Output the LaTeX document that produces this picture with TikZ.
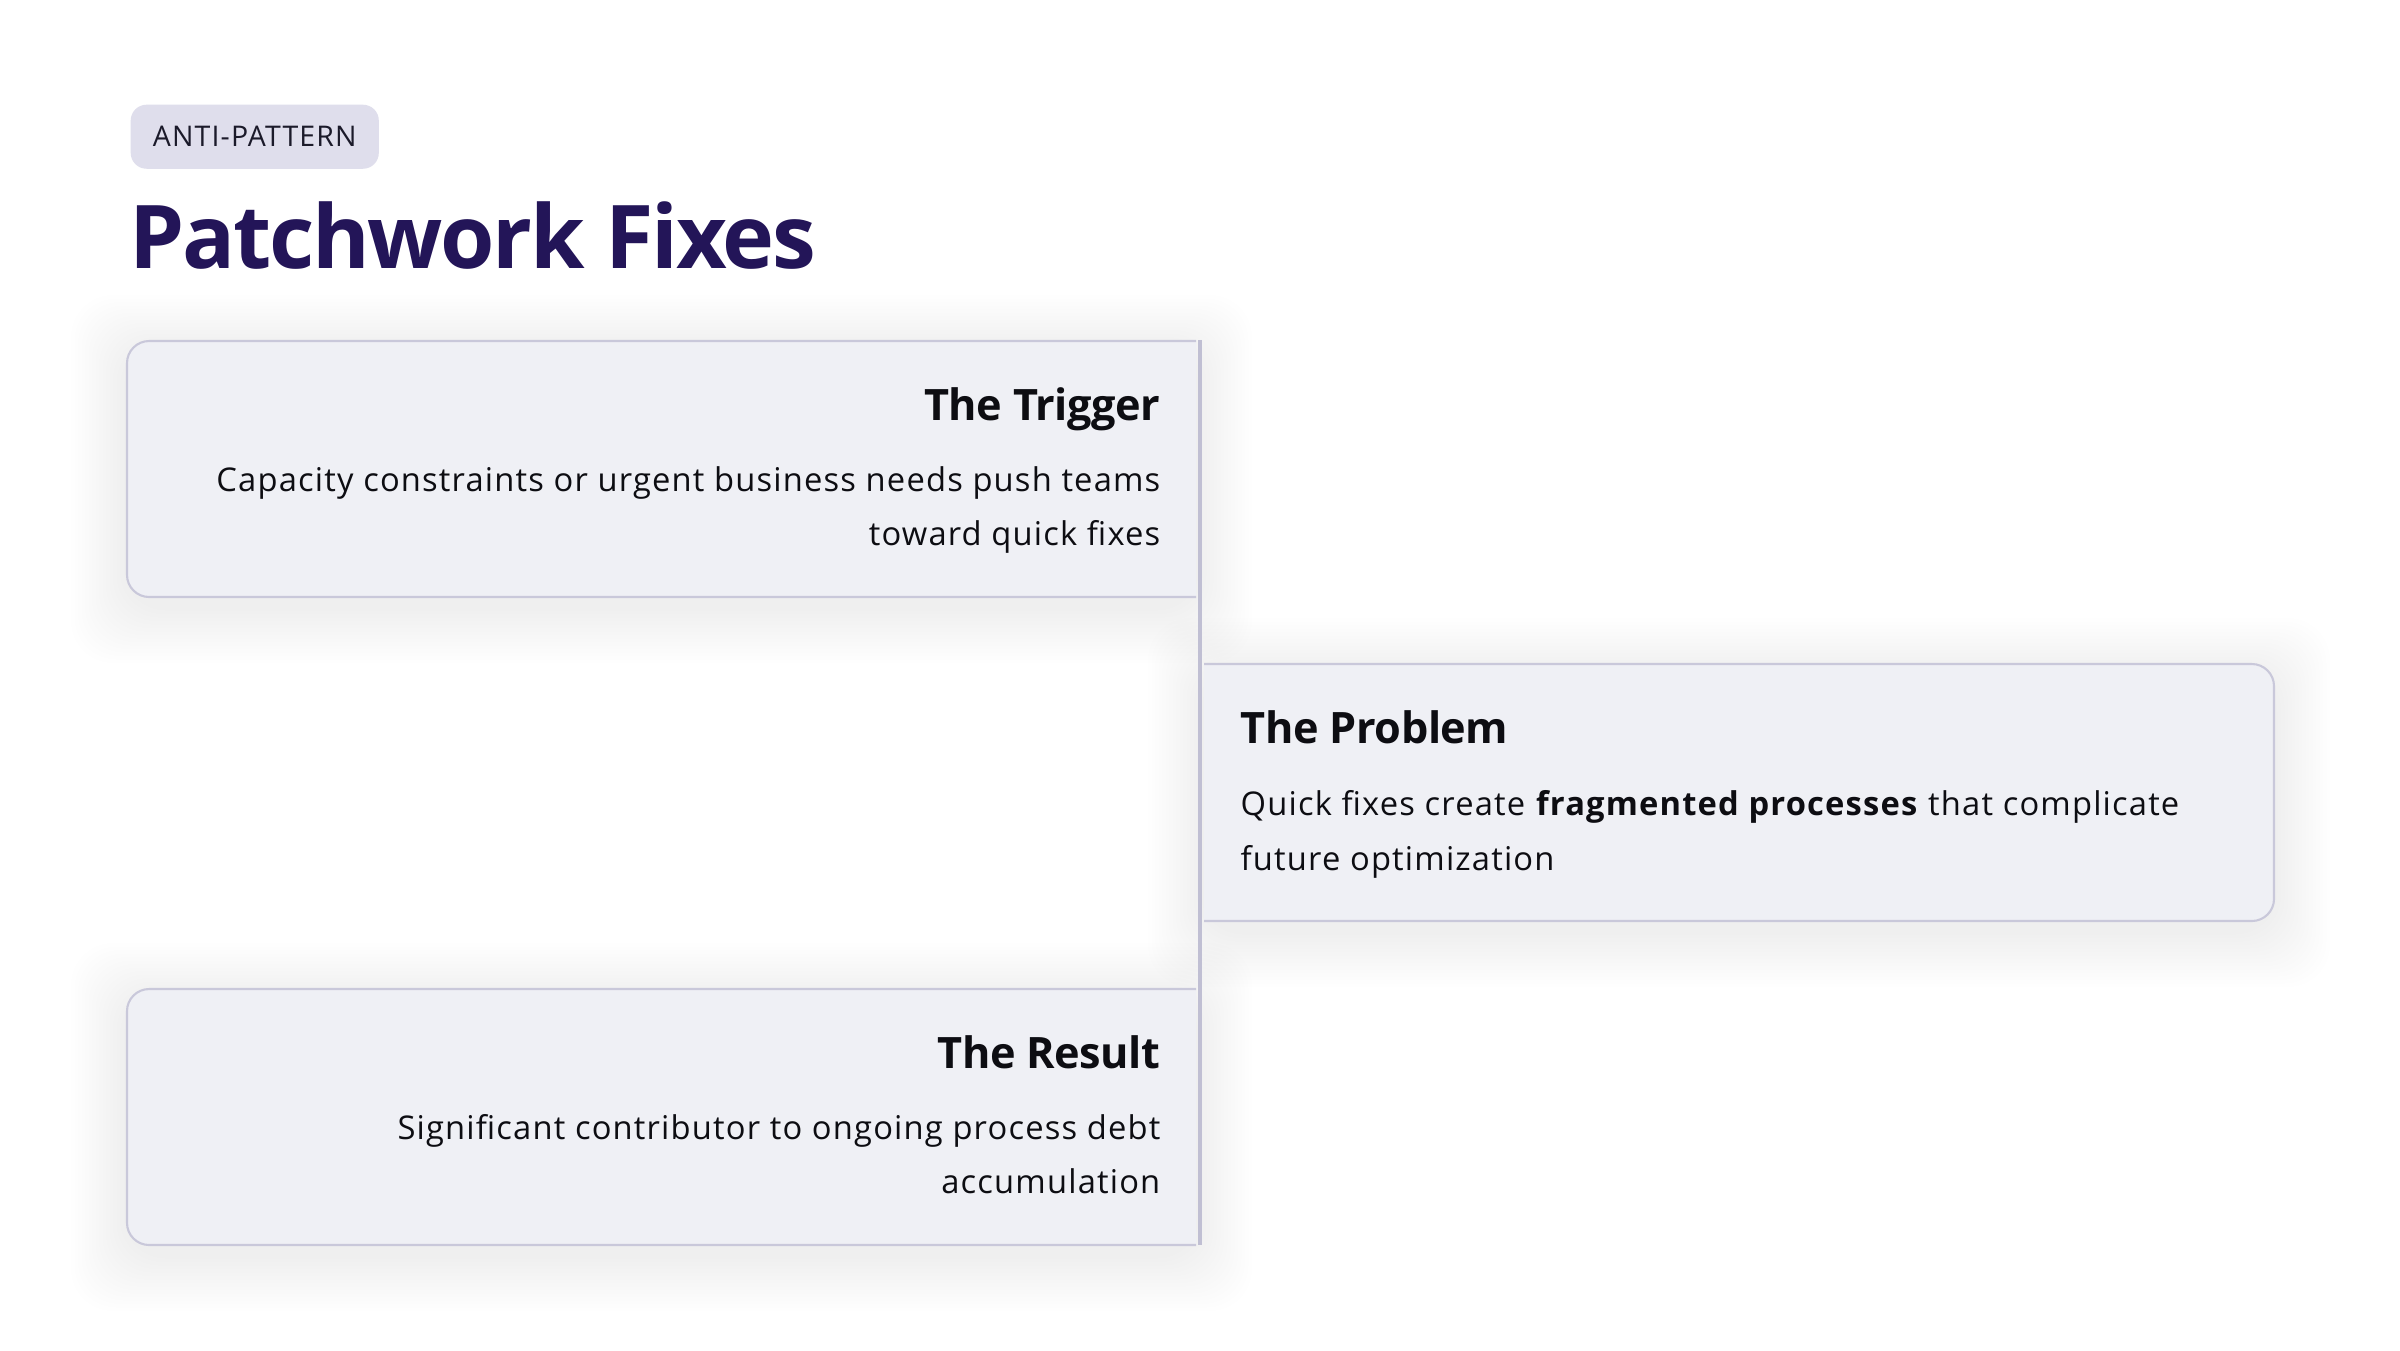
\documentclass[tikz,border=0pt]{standalone}
\usepackage{fontspec}
\setmainfont{Open Sans}
\definecolor{titlec}{HTML}{231558}
\definecolor{badgefill}{HTML}{DFDEEC}
\definecolor{badgetext}{HTML}{1B1A2A}
\definecolor{cardfill}{HTML}{EFF0F5}
\definecolor{cardborder}{HTML}{C9C8DA}
\definecolor{spine}{HTML}{C0BFD3}
\definecolor{ink}{HTML}{0D0D12}
\newcommand{\pxs}[2]{\fontsize{#1}{#2}\selectfont}
\newcommand{\softshadow}[4]{%
  \foreach \i in {1,...,16}{%
    \fill[black, opacity=0.004, rounded corners=12pt]
      ({#1-\i*3.5},{#2-\i*3.5+10}) rectangle ({#3+\i*3.5},{#4+\i*3.5+10});
  }}
\tikzset{
  cardbg/.style={fill=cardfill},
  cardline/.style={draw=cardborder, line width=0.6pt},
  headtxt/.style={inner sep=0pt, text=ink, font=\bfseries\pxs{12.3pt}{14pt}\addfontfeatures{LetterSpace=-1}},
  bodytxt/.style={inner sep=0pt, text=ink, font=\pxs{9.3pt}{11pt}\addfontfeatures{LetterSpace=3.6}},
}
\begin{document}
\begin{tikzpicture}[x=0.01cm, y=-0.01cm]
\useasboundingbox[fill=white] (0,0) rectangle (2400,1350);

% badge and title
\node[fill=badgefill, rounded corners=4.5pt, minimum width=248*0.2845pt, minimum height=64*0.2845pt, inner sep=0pt, anchor=north west, text=badgetext, font=\pxs{8.1pt}{9pt}\addfontfeatures{LetterSpace=4}] (badge) at (130,104) {ANTI-PATTERN};
\node[anchor=base west, inner sep=0pt, text=titlec, font=\bfseries\pxs{25pt}{28pt}\addfontfeatures{LetterSpace=-2.6}] (title) at (129,268) {Patchwork Fixes};

% shadows
\softshadow{127}{341}{1196}{597}
\softshadow{1204}{664}{2274}{921}
\softshadow{127}{989}{1196}{1245}

% card backgrounds
\fill[cardbg, rounded corners=6.3pt] (1196,341) -- (127,341) -- (127,597) -- (1196,597);
\draw[cardline, rounded corners=6.3pt] (1196,341) -- (127,341) -- (127,597) -- (1196,597);
\fill[cardbg, rounded corners=6.3pt] (1204,664) -- (2274,664) -- (2274,921) -- (1204,921);
\draw[cardline, rounded corners=6.3pt] (1204,664) -- (2274,664) -- (2274,921) -- (1204,921);
\fill[cardbg, rounded corners=6.3pt] (1196,989) -- (127,989) -- (127,1245) -- (1196,1245);
\draw[cardline, rounded corners=6.3pt] (1196,989) -- (127,989) -- (127,1245) -- (1196,1245);

% spine
\coordinate (spinetop) at (1200,340);
\coordinate (spinebot) at (1200,1245);
\draw[spine, line width=1.1pt] (spinetop) -- (spinebot);

% card 1
\node[headtxt, anchor=base east] (h1) at (1161,420) {The Trigger};
\node[bodytxt, anchor=base east] (b1a) at (1161,491) {Capacity constraints or urgent business needs push teams};
\node[bodytxt, anchor=base east] (b1b) at (1161,545) {toward quick fixes};

% card 2
\node[headtxt, anchor=base west] (h2) at (1240,743) {The Problem};
\node[bodytxt, anchor=base west] (b2a) at (1240,815) {Quick fixes create \textbf{fragmented processes} that complicate};
\node[bodytxt, anchor=base west] (b2b) at (1240,870) {future optimization};

% card 3
\node[headtxt, anchor=base east] (h3) at (1161,1068) {The Result};
\node[bodytxt, anchor=base east] (b3a) at (1161,1139) {Significant contributor to ongoing process debt};
\node[bodytxt, anchor=base east] (b3b) at (1161,1193) {accumulation};
\end{tikzpicture}
\end{document}
